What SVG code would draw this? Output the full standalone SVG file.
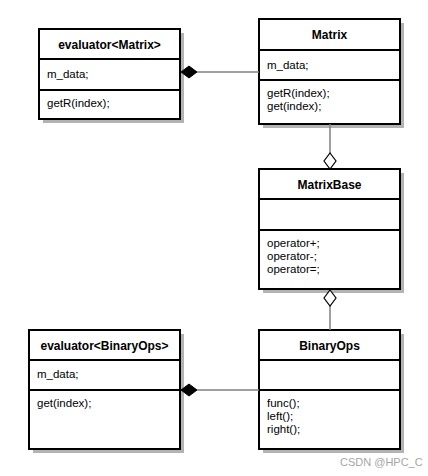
<svg xmlns="http://www.w3.org/2000/svg" width="428" height="476" viewBox="0 0 428 476">
<style>
.box{fill:#fff;stroke:#000;stroke-width:2}
.div{stroke:#000;stroke-width:2}
.sh{fill:#b3b3b3}
.shl{stroke:#b3b3b3;stroke-width:2}
.t{font-family:"Liberation Sans",Arial,Helvetica,sans-serif;font-size:12px;font-weight:bold;text-anchor:middle;fill:#000}
.a{font-family:"Liberation Sans",Arial,Helvetica,sans-serif;font-size:11.5px;fill:#000}
.c{stroke:#808080;stroke-width:1.5;fill:none}
.fd{fill:#000;stroke:#000;stroke-width:1}
.od{fill:#fff;stroke:#000;stroke-width:1.2}
.wm{font-family:"Liberation Sans",Arial,Helvetica,sans-serif;font-size:11px;fill:#a6a6a6}
</style>
<rect width="428" height="476" fill="#fff"/>
<g id="evaluatorMatrix">
<rect class="sh" x="43" y="33" width="141" height="90"/>
<line class="shl" x1="180" y1="63" x2="184" y2="63"/>
<line class="shl" x1="180" y1="94" x2="184" y2="94"/>
<rect class="box" x="39" y="29" width="141" height="90"/>
<line class="div" x1="39" y1="59" x2="180" y2="59"/>
<line class="div" x1="39" y1="90" x2="180" y2="90"/>
<text class="t" x="109.5" y="48.5">evaluator&lt;Matrix&gt;</text>
<text class="a" x="47" y="78">m_data;</text>
<text class="a" x="47" y="107">getR(index);</text>
</g>
<g id="Matrix">
<rect class="sh" x="263" y="23" width="141" height="105"/>
<line class="shl" x1="400" y1="54" x2="404" y2="54"/>
<line class="shl" x1="400" y1="84" x2="404" y2="84"/>
<rect class="box" x="259" y="19" width="141" height="105"/>
<line class="div" x1="259" y1="50" x2="400" y2="50"/>
<line class="div" x1="259" y1="80" x2="400" y2="80"/>
<text class="t" x="329.5" y="39">Matrix</text>
<text class="a" x="267" y="69">m_data;</text>
<text class="a" x="267" y="97">getR(index);</text>
<text class="a" x="267" y="110">get(index);</text>
</g>
<g id="MatrixBase">
<rect class="sh" x="263" y="173" width="141" height="120"/>
<line class="shl" x1="400" y1="203" x2="404" y2="203"/>
<line class="shl" x1="400" y1="234" x2="404" y2="234"/>
<rect class="box" x="259" y="169" width="141" height="120"/>
<line class="div" x1="259" y1="199" x2="400" y2="199"/>
<line class="div" x1="259" y1="230" x2="400" y2="230"/>
<text class="t" x="329.5" y="188.5">MatrixBase</text>
<text class="a" x="267" y="247">operator+;</text>
<text class="a" x="267" y="260">operator-;</text>
<text class="a" x="267" y="273">operator=;</text>
</g>
<g id="BinaryOps">
<rect class="sh" x="263" y="334" width="141" height="119"/>
<line class="shl" x1="400" y1="364" x2="404" y2="364"/>
<line class="shl" x1="400" y1="394" x2="404" y2="394"/>
<rect class="box" x="259" y="330" width="141" height="119"/>
<line class="div" x1="259" y1="360" x2="400" y2="360"/>
<line class="div" x1="259" y1="390" x2="400" y2="390"/>
<text class="t" x="329.5" y="349.5">BinaryOps</text>
<text class="a" x="267" y="407">func();</text>
<text class="a" x="267" y="420">left();</text>
<text class="a" x="267" y="433">right();</text>
</g>
<g id="evaluatorBinaryOps">
<rect class="sh" x="33" y="334" width="151" height="119"/>
<line class="shl" x1="180" y1="364" x2="184" y2="364"/>
<line class="shl" x1="180" y1="394" x2="184" y2="394"/>
<rect class="box" x="29" y="330" width="151" height="119"/>
<line class="div" x1="29" y1="360" x2="180" y2="360"/>
<line class="div" x1="29" y1="390" x2="180" y2="390"/>
<text class="t" x="104.5" y="349.5">evaluator&lt;BinaryOps&gt;</text>
<text class="a" x="37" y="378">m_data;</text>
<text class="a" x="37" y="407">get(index);</text>
</g>
<g id="connectors">
<line class="c" x1="197" y1="72" x2="259" y2="72"/>
<polygon class="fd" points="181,72 189,66 197,72 189,78"/>
<line class="c" x1="330" y1="124" x2="330" y2="153"/>
<polygon class="od" points="330,153 336,161 330,169 324,161"/>
<line class="c" x1="330" y1="306" x2="330" y2="330"/>
<polygon class="od" points="330,290 336,298 330,306 324,298"/>
<line class="c" x1="197" y1="390" x2="259" y2="390"/>
<polygon class="fd" points="181,390 189,384 197,390 189,396"/>
</g>
<text class="wm" x="340" y="466">CSDN @HPC_C</text>
</svg>
